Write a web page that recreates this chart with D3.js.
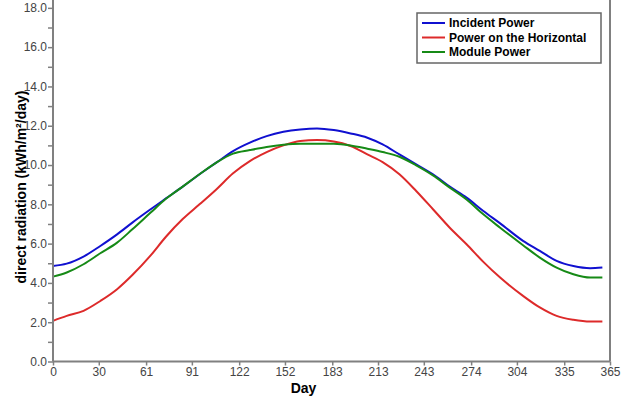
<!DOCTYPE html>
<html>
<head>
<meta charset="utf-8">
<script src="https://cdn.jsdelivr.net/npm/d3@7"></script>
<style>
  body { margin: 0; background: #fff; }
  text { font-family: "Liberation Sans", Arial, sans-serif; }
</style>
</head>
<body>
<svg class="chart"></svg>
<script>
const days = [0, 9, 20, 31, 42, 52, 64, 74, 85, 96, 107, 118, 129, 140, 151, 162, 173, 184, 195, 206, 216, 227, 238, 249, 260, 271, 282, 293, 308, 319, 330, 341, 352, 360];
const incident = [4.86, 4.98, 5.34, 5.88, 6.47, 7.07, 7.75, 8.3, 8.9, 9.53, 10.12, 10.71, 11.14, 11.47, 11.69, 11.81, 11.86, 11.78, 11.61, 11.39, 11.05, 10.54, 10.03, 9.53, 8.9, 8.34, 7.66, 7.03, 6.14, 5.63, 5.12, 4.86, 4.75, 4.78];
const horizontal = [2.07, 2.32, 2.58, 3.08, 3.68, 4.4, 5.4, 6.35, 7.25, 8.0, 8.76, 9.58, 10.2, 10.66, 11.0, 11.22, 11.27, 11.2, 10.97, 10.54, 10.15, 9.53, 8.68, 7.75, 6.81, 5.97, 5.07, 4.27, 3.34, 2.75, 2.32, 2.12, 2.03, 2.03];
const modulePower = [4.32, 4.53, 4.95, 5.51, 6.05, 6.73, 7.58, 8.28, 8.9, 9.53, 10.12, 10.58, 10.76, 10.92, 11.03, 11.08, 11.08, 11.08, 11.0, 10.83, 10.66, 10.42, 9.98, 9.47, 8.85, 8.25, 7.49, 6.81, 5.92, 5.29, 4.78, 4.44, 4.27, 4.27];
const seriesNames = ["Incident Power", "Power on the Horizontal", "Module Power"];
const xTicks = [0, 30, 61, 91, 122, 152, 183, 213, 243, 274, 304, 335, 365];
const yTicks = [0, 2, 4, 6, 8, 10, 12, 14, 16, 18];
const yMinor = [1, 3, 5, 7, 9, 11, 13, 15, 17];

const width = 630, height = 397;
const left = 53, right = 610, bottom = 361.5;

const x = d3.scaleLinear().domain([0, 365]).range([left, right]);
const y = d3.scaleLinear().domain([0, 18.4]).range([bottom, 0]);
const color = d3.scaleOrdinal().domain(seriesNames).range(["#1010d0", "#dd2a2a", "#168a16"]);

const svg = d3.select(".chart").attr("width", width).attr("height", height);

// lines
const series = [incident, horizontal, modulePower];
const line = d3.line()
    .x((d, i) => x(days[i]))
    .y(d => y(d))
    .curve(d3.curveMonotoneX);

svg.selectAll(".series")
    .data(series)
    .enter().append("path")
    .attr("class", "series")
    .attr("fill", "none")
    .attr("stroke", (d, i) => color(seriesNames[i]))
    .attr("stroke-width", 2)
    .attr("d", line);

// axes
const axisColor = "#808080";
const yAxis = svg.append("g")
    .attr("transform", `translate(${left},0)`)
    .call(d3.axisLeft(y).tickValues(yTicks).tickFormat(d3.format(".1f")).tickSize(5).tickPadding(1));
const yMinorAxis = svg.append("g")
    .attr("transform", `translate(${left},0)`)
    .call(d3.axisLeft(y).tickValues(yMinor).tickFormat("").tickSize(5));
const xAxis = svg.append("g")
    .attr("transform", `translate(0,${bottom})`)
    .call(d3.axisBottom(x).tickValues(xTicks).tickSize(4).tickPadding(2));

[yAxis, yMinorAxis, xAxis].forEach(g => {
    g.select(".domain").remove();
    g.selectAll("line").attr("stroke", axisColor).attr("stroke-width", 1.5);
    g.selectAll("text")
        .attr("fill", "#444")
        .style("font-size", "12px")
        .style("font-family", "'Liberation Sans', Arial, sans-serif");
});

svg.append("line").attr("x1", left).attr("x2", left).attr("y1", 0).attr("y2", bottom)
    .attr("stroke", axisColor).attr("stroke-width", 2);
svg.append("line").attr("x1", right).attr("x2", right).attr("y1", 0).attr("y2", bottom)
    .attr("stroke", axisColor).attr("stroke-width", 2);
svg.append("line").attr("x1", left).attr("x2", right).attr("y1", bottom).attr("y2", bottom)
    .attr("stroke", axisColor).attr("stroke-width", 2);

// titles
svg.append("text")
    .attr("x", (left + right) / 2 - 28)
    .attr("y", 393)
    .attr("text-anchor", "middle")
    .style("font-size", "14px")
    .style("font-weight", "bold")
    .text("Day");

svg.append("text")
    .attr("transform", "translate(26,187) rotate(-90)")
    .attr("text-anchor", "middle")
    .style("font-size", "14px")
    .style("font-weight", "bold")
    .text("direct radiation (kWh/m²/day)");

// legend
const legend = svg.append("g").attr("transform", "translate(417,13)");
legend.append("rect")
    .attr("width", 184).attr("height", 50)
    .attr("fill", "#fff").attr("stroke", "#666").attr("stroke-width", 1.5);
const items = legend.selectAll(".item")
    .data(seriesNames)
    .enter().append("g")
    .attr("class", "item")
    .attr("transform", (d, i) => `translate(0,${10 + i * 14.5})`);
items.append("line")
    .attr("x1", 5).attr("x2", 28)
    .attr("stroke", d => color(d)).attr("stroke-width", 2);
items.append("text")
    .attr("x", 32).attr("dy", "0.35em")
    .style("font-size", "12px")
    .style("font-weight", "bold")
    .text(d => d);
</script>
</body>
</html>
